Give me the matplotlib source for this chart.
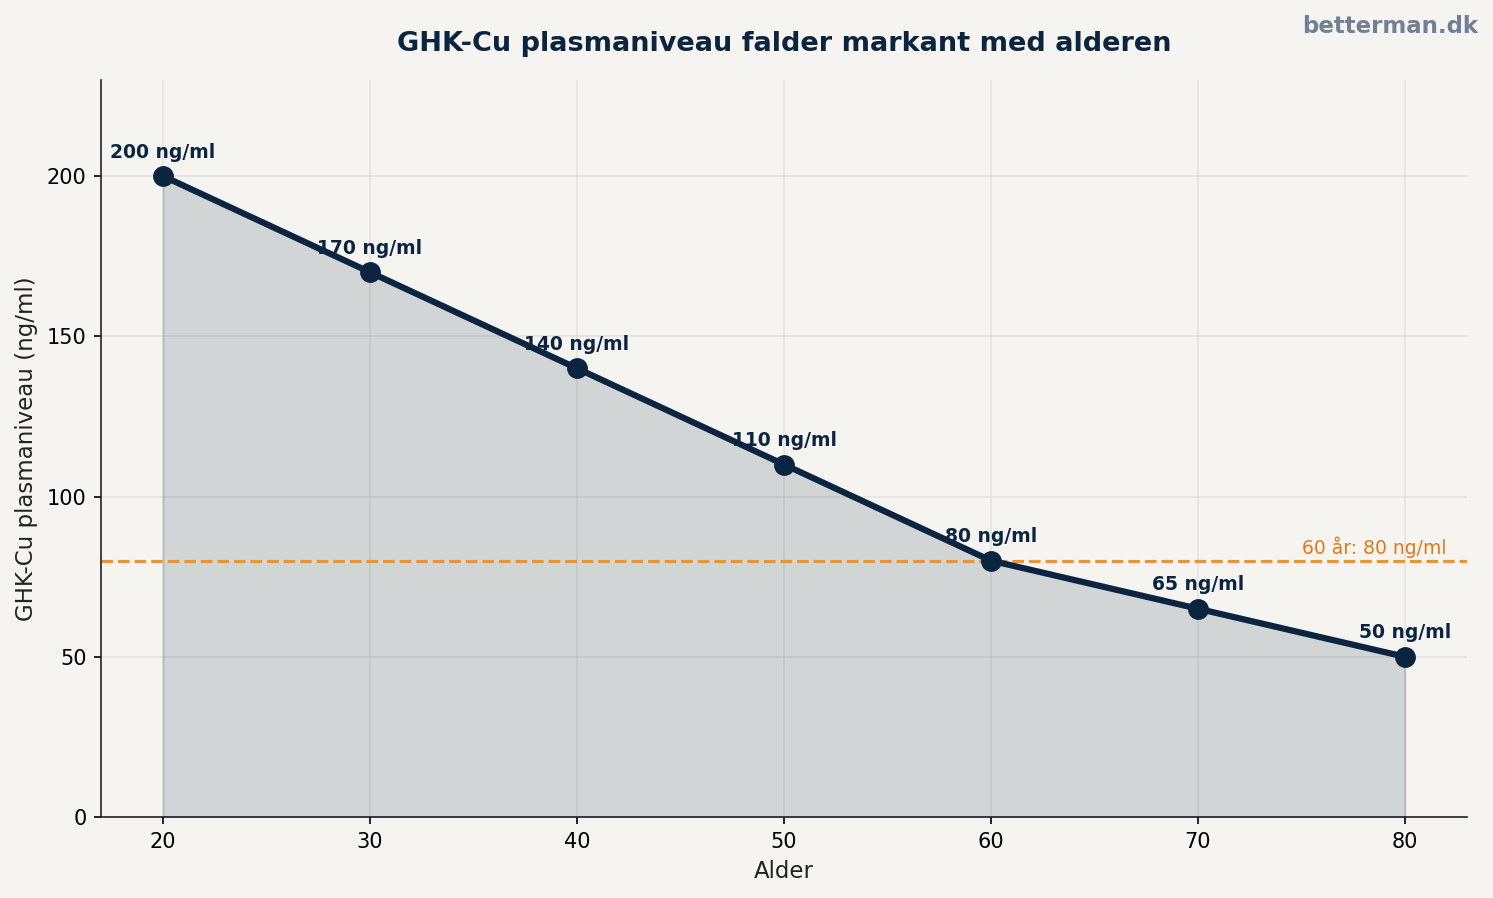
import numpy as np
import matplotlib.pyplot as plt

# ---------- DATA ----------
ALDER = [20, 30, 40, 50, 60, 70, 80]
NIVEAU = [200, 170, 140, 110, 80, 65, 50]
REF_ALDER = 60
REF_NIVEAU = 80

# ---------- STYLE ----------
BG = '#f5f4f0'
NAVY = '#0b2540'
ORANGE = '#e8943a'
ORANGE_TXT = '#dd7a18'
GREY = '#718096'

plt.rcParams['font.family'] = 'DejaVu Sans'

fig, ax = plt.subplots(figsize=(1493 / 150, 898 / 150), dpi=150)
fig.patch.set_facecolor(BG)
ax.set_facecolor(BG)

x = np.array(ALDER)
y = np.array(NIVEAU)

ax.fill_between(x, y, 0, color=NAVY, alpha=0.15, zorder=1)
ax.plot(x, y, '-', color=NAVY, lw=3, marker='o', markersize=9, zorder=3)

ax.axhline(REF_NIVEAU, color=ORANGE, ls='--', lw=1.5, zorder=2)
ax.text(82, REF_NIVEAU + 0.8, f"{REF_ALDER} år: {REF_NIVEAU} ng/ml",
        color=ORANGE_TXT, fontsize=9, ha='right', va='bottom')

for xi, yi in zip(ALDER, NIVEAU):
    ax.annotate(f"{yi} ng/ml", (xi, yi), xytext=(0, 7), textcoords='offset points',
                ha='center', va='bottom', fontsize=9, fontweight='bold', color=NAVY)

ax.set_xlim(17, 83)
ax.set_ylim(0, 230)
ax.set_xticks(ALDER)
ax.set_yticks([0, 50, 100, 150, 200])
ax.tick_params(labelsize=10)
ax.set_xlabel('Alder', fontsize=11, color='#222222')
ax.set_ylabel('GHK-Cu plasmaniveau (ng/ml)', fontsize=11, color='#222222')
ax.set_title('GHK-Cu plasmaniveau falder markant med alderen',
             fontsize=13, fontweight='bold', color=NAVY, pad=14)
ax.grid(True, color='#cccccc', alpha=0.4, lw=0.8)
ax.set_axisbelow(True)
for s in ['top', 'right']:
    ax.spines[s].set_visible(False)
for s in ['left', 'bottom']:
    ax.spines[s].set_color('#222222')

fig.text(0.99, 0.971, 'betterman.dk', ha='right', va='center',
         fontsize=11, fontweight='bold', color=GREY)

fig.subplots_adjust(left=101 / 1493, right=1467 / 1493, top=1 - 80 / 898, bottom=1 - 817 / 898)
fig.savefig('out.png', dpi=150, facecolor=BG)
